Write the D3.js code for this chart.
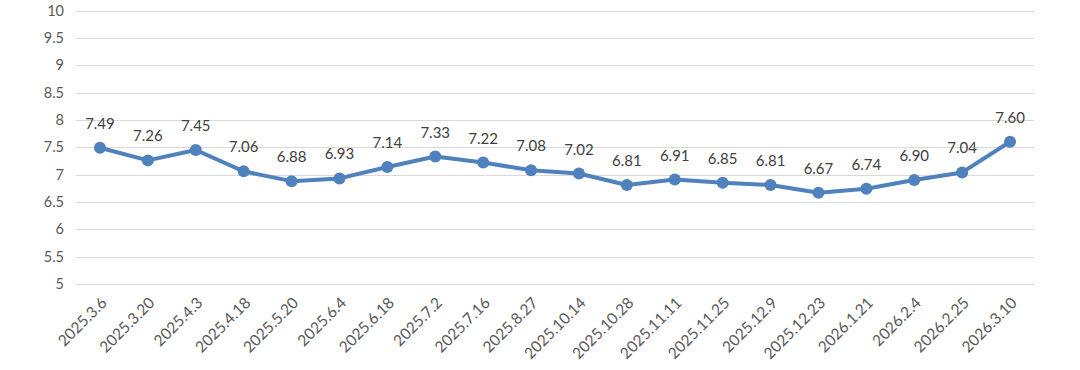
<!DOCTYPE html>
<html>
<head>
<meta charset="utf-8">
<script src="https://cdn.jsdelivr.net/npm/d3@7"></script>
<style>
  body { margin: 0; background: #fff; }
  text { font-family: Lato, "Open Sans", sans-serif; }
</style>
</head>
<body>
<div id="chart"></div>
<script>
// chart data
const dates = ["2025.3.6", "2025.3.20", "2025.4.3", "2025.4.18", "2025.5.20", "2025.6.4",
  "2025.6.18", "2025.7.2", "2025.7.16", "2025.8.27", "2025.10.14", "2025.10.28",
  "2025.11.11", "2025.11.25", "2025.12.9", "2025.12.23", "2026.1.21", "2026.2.4",
  "2026.2.25", "2026.3.10"];
const values = [7.49, 7.26, 7.45, 7.06, 6.88, 6.93, 7.14, 7.33, 7.22, 7.08, 7.02, 6.81,
  6.91, 6.85, 6.81, 6.67, 6.74, 6.90, 7.04, 7.60];
const yTicks = [5, 5.5, 6, 6.5, 7, 7.5, 8, 8.5, 9, 9.5, 10];

const width = 1080, height = 370;
const margin = { top: 10.5, right: 46, bottom: 86, left: 76 };
const font = "Lato, 'Open Sans', sans-serif";

const svg = d3.select("#chart")
  .append("svg")
  .attr("width", width)
  .attr("height", height);

const xScale = d3.scaleBand()
  .domain(dates)
  .range([margin.left, width - margin.right]);

const yScale = d3.scaleLinear()
  .domain([5, 10])
  .range([height - margin.bottom, margin.top]);

// gridlines
svg.append("g")
  .selectAll("line")
  .data(yTicks)
  .join("line")
    .attr("x1", margin.left)
    .attr("x2", width - margin.right)
    .attr("y1", d => Math.round(yScale(d)) + 0.5)
    .attr("y2", d => Math.round(yScale(d)) + 0.5)
    .attr("stroke", "#d9d9d9")
    .attr("stroke-width", 1);

// y axis labels
const yAxis = svg.append("g")
  .attr("transform", `translate(${margin.left}, 0)`)
  .call(d3.axisLeft(yScale).tickValues(yTicks).tickSize(0).tickPadding(12)
    .tickFormat(d3.format("~g")));
yAxis.select(".domain").remove();
yAxis.selectAll("text")
  .attr("font-size", "14.5px")
  .attr("font-family", font)
  .attr("fill", "#595959");

// x axis labels, rotated
const xAxis = svg.append("g")
  .attr("transform", `translate(0, ${height - margin.bottom})`)
  .call(d3.axisBottom(xScale).tickSize(0).tickPadding(0));
xAxis.select(".domain").remove();
xAxis.selectAll("text")
  .attr("font-size", "15.5px")
  .attr("font-family", font)
  .attr("fill", "#595959")
  .attr("text-anchor", "end")
  .attr("dy", "0.35em")
  .attr("transform", "translate(4, 16) rotate(-45)");

const cx = d => xScale(d) + xScale.bandwidth() / 2;

// the line
const line = d3.line()
  .x((d, i) => cx(dates[i]))
  .y(d => yScale(d));

svg.append("path")
  .datum(values)
  .attr("fill", "none")
  .attr("stroke", "#4F81BD")
  .attr("stroke-width", 4)
  .attr("stroke-linejoin", "round")
  .attr("d", line);

svg.selectAll("circle")
  .data(values)
  .enter()
  .append("circle")
    .attr("cx", (d, i) => cx(dates[i]))
    .attr("cy", d => yScale(d))
    .attr("r", 6)
    .attr("fill", "#4F81BD");

// data labels
svg.selectAll(".val")
  .data(values)
  .enter()
  .append("text")
    .attr("class", "val")
    .attr("x", (d, i) => cx(dates[i]))
    .attr("y", d => yScale(d) - 19)
    .attr("text-anchor", "middle")
    .attr("font-size", "15px")
    .attr("font-family", font)
    .attr("fill", "#404040")
    .text(d => d.toFixed(2));
</script>
</body>
</html>
